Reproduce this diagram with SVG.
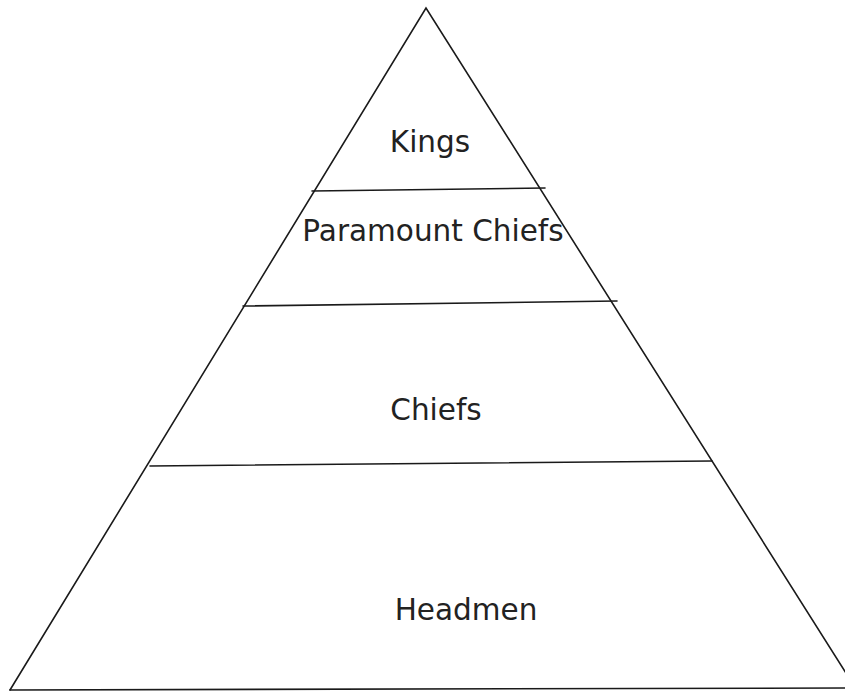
<svg xmlns="http://www.w3.org/2000/svg" width="845" height="692" viewBox="0 0 845 692">
<style>
.ln{stroke:#1a1a1a;stroke-width:1.6;fill:none;stroke-linecap:round}
.t{font-family:"DejaVu Sans",Verdana,sans-serif;font-size:29.5px;fill:#222;text-anchor:middle}
</style>
<rect width="845" height="692" fill="#fff"/>
<g id="connectors">
<path class="ln" d="M10,690 L426,8 L856,689"/>
<path class="ln" d="M10,690 L845,688"/>
<path class="ln" d="M312,191 L545,188"/>
<path class="ln" d="M243,306 L617,301"/>
<path class="ln" d="M150,466 L712,461"/>
</g>
<g id="kings"><text class="t" x="430" y="152">Kings</text></g>
<g id="paramount"><text class="t" x="433" y="241">Paramount Chiefs</text></g>
<g id="chiefs"><text class="t" x="436" y="420">Chiefs</text></g>
<g id="headmen"><text class="t" x="466" y="620">Headmen</text></g>
</svg>
